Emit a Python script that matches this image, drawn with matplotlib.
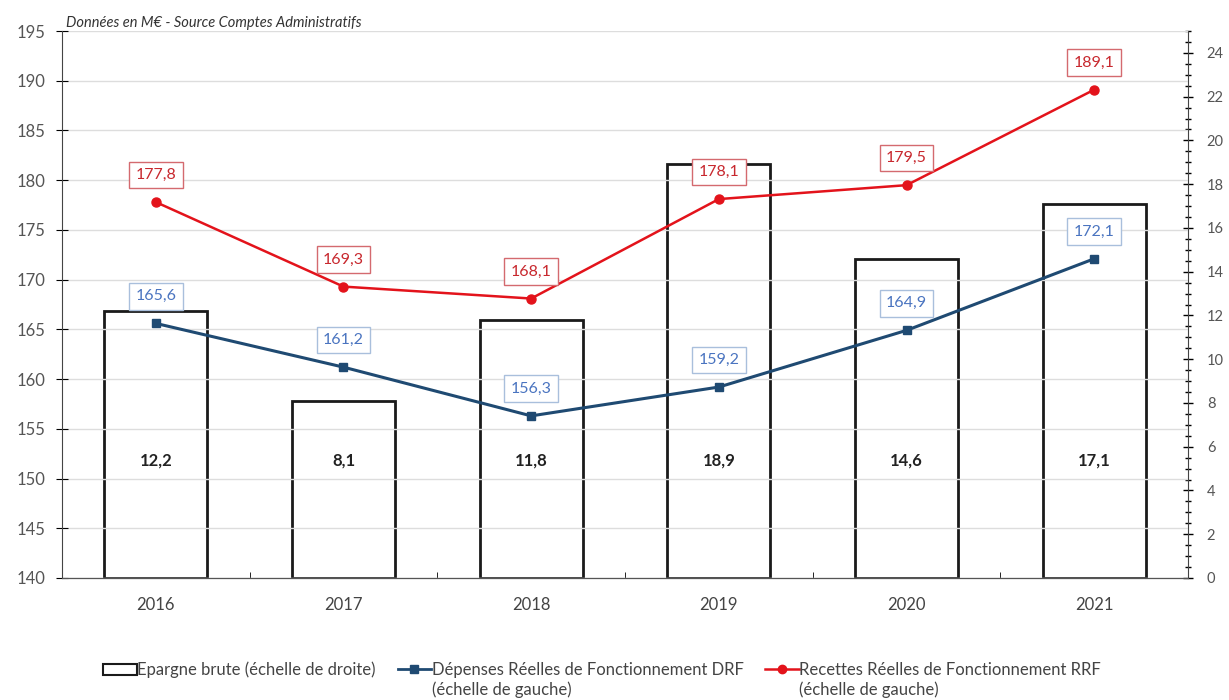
import numpy as np
import matplotlib.pyplot as plt
from matplotlib.patches import Patch
from matplotlib.lines import Line2D
from matplotlib.ticker import MultipleLocator

plt.rcParams['font.family'] = ['Lato', 'DejaVu Sans']

# Comptes administratifs, en M€
years = ['2016', '2017', '2018', '2019', '2020', '2021']
epargne_brute = [12.2, 8.1, 11.8, 18.9, 14.6, 17.1]
drf = [165.6, 161.2, 156.3, 159.2, 164.9, 172.1]
rrf = [177.8, 169.3, 168.1, 178.1, 179.5, 189.1]

red = '#e3131b'
navy = '#1f4a72'
blue_txt = '#4a74c0'
red_txt = '#c8282e'


def fr(v):
    return f'{v:.1f}'.replace('.', ',')


fig = plt.figure(figsize=(12.29, 7.0), dpi=100)
ax = fig.add_axes([0.0504, 0.1743, 0.9163, 0.7814])
ax2 = ax.twinx()

x = np.arange(len(years))

# bars on the right-hand scale
ax2.bar(x, epargne_brute, width=0.55, facecolor='white', edgecolor='#1a1a1a',
        linewidth=2, zorder=1)
for xi, v in zip(x, epargne_brute):
    ax2.text(xi, 0.215, fr(v), transform=ax2.get_xaxis_transform(),
             ha='center', va='center', fontsize=12, fontweight='bold',
             color='#222222')
ax2.set_ylim(0, 25)
ax2.yaxis.set_minor_locator(MultipleLocator(0.5))
ax2.set_yticks(list(range(0, 25, 2)))
ax2.tick_params(axis='y', which='major', direction='inout', length=7,
                width=1, labelsize=10.5, labelcolor='#555555', pad=10)
ax2.tick_params(axis='y', which='minor', direction='inout', length=5, width=1)

# lines on the left-hand scale, drawn above the bars
ax.set_zorder(ax2.get_zorder() + 1)
ax.patch.set_visible(False)
ax.plot(x, rrf, color=red, lw=1.8, marker='o', ms=6.5, zorder=3)
ax.plot(x, drf, color=navy, lw=2.2, marker='s', ms=6, zorder=3)

for xi, v in zip(x, rrf):
    ax.annotate(fr(v), (xi, v), xytext=(0, 19.5), textcoords='offset points',
                ha='center', va='center', fontsize=11.5, color=red_txt,
                bbox=dict(boxstyle='square,pad=0.4', fc='white',
                          ec='#d46a6f', lw=1))
for xi, v in zip(x, drf):
    ax.annotate(fr(v), (xi, v), xytext=(0, 19.5), textcoords='offset points',
                ha='center', va='center', fontsize=11.5, color=blue_txt,
                bbox=dict(boxstyle='square,pad=0.4', fc='white',
                          ec='#a9bfdc', lw=1))

ax.set_ylim(140, 195)
ax.set_yticks(np.arange(140, 196, 5))
ax.set_xlim(-0.5, len(years) - 0.5)
ax.set_xticks(x)
ax.set_xticklabels(years)
ax.set_xticks(np.arange(0.5, len(years) - 1, 1), minor=True)
ax.tick_params(axis='x', which='major', length=0, labelsize=12,
               labelcolor='#444444', pad=14)
ax.tick_params(axis='x', which='minor', direction='in', length=4)
ax.tick_params(axis='y', direction='inout', length=8, labelsize=12,
               labelcolor='#555555', pad=8)
ax.grid(axis='y', color='#dddddd', lw=1)
ax2.set_axisbelow(True)
ax.set_axisbelow(True)

for a in (ax, ax2):
    for s in ('top', 'left', 'right'):
        a.spines[s].set_visible(False)
ax.spines['left'].set_visible(True)
ax2.spines['right'].set_visible(True)
ax.spines['bottom'].set_color('#555555')
ax.spines['left'].set_color('#444444')
ax2.spines['right'].set_color('#444444')

ax.text(0.004, 1.002, 'Données en M€ - Source Comptes Administratifs',
        transform=ax.transAxes, ha='left', va='bottom', fontsize=10.5,
        style='italic', color='#333333')

# legend: first lines in the legend, the scale note written under entries 2 and 3
handles = [
    Patch(facecolor='white', edgecolor='#1a1a1a', linewidth=1.5),
    Line2D([], [], color=navy, lw=2, marker='s', ms=6),
    Line2D([], [], color=red, lw=1.8, marker='o', ms=6),
]
labels = [
    'Epargne brute (échelle de droite)',
    'Dépenses Réelles de Fonctionnement DRF',
    'Recettes Réelles de Fonctionnement RRF',
]
leg = fig.legend(handles, labels, loc='center', bbox_to_anchor=(0.49, 0.043),
                 ncol=3, frameon=False, fontsize=12, handlelength=2.0,
                 handletextpad=0.05, columnspacing=1.3, labelcolor='#444444')
fig.canvas.draw()
inv = fig.transFigure.inverted()
for t in leg.get_texts()[1:]:
    bb = t.get_window_extent()
    x0, y0 = inv.transform((bb.x0, bb.y0))
    fig.text(x0, y0 - 0.004, '(échelle de gauche)', ha='left', va='top',
             fontsize=12, color='#444444')

fig.savefig('out.png', dpi=100)
